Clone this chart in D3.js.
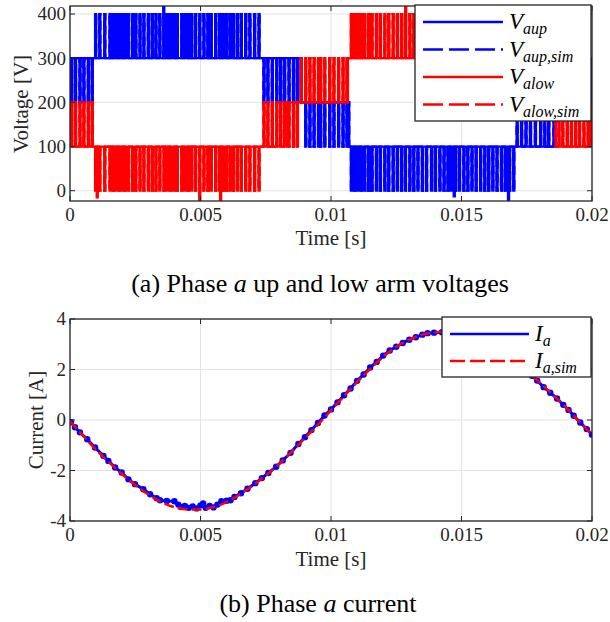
<!DOCTYPE html>
<html>
<head>
<meta charset="utf-8">
<script src="https://cdn.jsdelivr.net/npm/d3@7"></script>
<style>
  body { margin: 0; background: #fff; }
  svg { display: block; }
  text { font-family: 'Liberation Serif', 'Times New Roman', serif; }
</style>
</head>
<body>
<div id="chart"></div>
<script>
// ---- data (time in ms) ----
const timeTicks = [0, 5, 10, 15, 20];
const timeTickLabels = ['0', '0.005', '0.01', '0.015', '0.02'];
const voltageTicks = [0, 100, 200, 300, 400];
const voltageTickLabels = ['0', '100', '200', '300', '400'];
const currentTicks = [-4, -2, 0, 2, 4];
const currentTickLabels = ['-4', '-2', '0', '2', '4'];

// switching instants
const pulseTimes = [
  0.04, 0.19, 0.36, 0.51, 0.68, 0.83, 0.96, 1.12, 1.31, 1.51, 1.64, 1.76, 1.87, 1.97,
  2.08, 2.21, 2.37, 2.50, 2.66, 2.81, 2.98, 3.13, 3.27, 3.42, 3.58, 3.71, 3.83, 3.96,
  4.09, 4.26, 4.38, 4.51, 4.64, 4.79, 4.95, 5.11, 5.26, 5.39, 5.56, 5.71, 5.84, 5.97,
  6.11, 6.24, 6.39, 6.54, 6.71, 6.87, 7.05, 7.22, 7.41, 7.56, 7.73, 7.90, 8.05, 8.20,
  8.37, 8.54, 8.69, 8.84, 9.01, 9.17, 9.33, 9.50, 9.58, 9.74, 9.93, 10.09, 10.27, 10.44,
  10.59, 10.76, 10.89, 11.01, 11.14, 11.27, 11.42, 11.55, 11.72, 11.87, 12.04, 12.19,
  12.36, 12.52, 12.68, 12.83, 13.00, 13.15, 13.31, 13.48, 13.64, 13.83, 13.98, 14.15,
  14.31, 14.46, 14.59, 14.75, 14.90, 15.07, 15.22, 15.38, 15.54, 15.71, 15.87, 16.02,
  16.18, 16.34, 16.51, 16.66, 16.82, 16.98, 17.11, 17.28, 17.45, 17.62, 17.81, 18.01,
  18.17, 18.32, 18.52, 18.71, 18.86, 19.03, 19.19, 19.35, 19.50, 19.67, 19.83, 19.96
];
const pulseWidth = 0.045;

// [start, end, base level, pulse level]
const aupSegments = [
  [0, 0.9, 300, 200],
  [0.9, 7.3, 300, 400],
  [7.3, 8.85, 300, 200],
  [8.85, 10.7, 200, 100],
  [10.7, 17.05, 100, 0],
  [17.05, 18.6, 100, 200],
  [18.6, 20, 200, 300]
];
const alowSegments = [
  [0, 0.9, 100, 200],
  [0.9, 7.25, 100, 0],
  [7.25, 8.3, 100, 200],
  [8.3, 8.8, 200, 100],
  [8.8, 10.65, 200, 300],
  [10.65, 14.6, 300, 400],
  [14.6, 18.6, 200, 300],
  [18.6, 20, 100, 200]
];
// overshoots [time, voltage]
const aupSpikes = [[3.57, 418], [14.7, -13], [16.78, -25]];
const alowSpikes = [[1.02, -15], [4.95, -23], [5.75, -25], [12.84, 420]];

const iaTime = [
  0.04, 0.19, 0.38, 0.66, 0.96, 1.28, 1.47, 1.73, 1.98, 2.24, 2.49, 2.81, 3.07, 3.32,
  3.45, 3.71, 4.00, 4.15, 4.25, 4.40, 4.55, 4.70, 4.85, 5.00, 5.10, 5.20, 5.35, 5.50,
  5.65, 5.80, 6.00, 6.15, 6.30, 6.55, 6.80, 7.10, 7.35, 7.60, 7.90, 8.15, 8.45, 8.75,
  9.00, 9.25, 9.50, 9.75, 10.00, 10.25, 10.50, 10.75, 11.00, 11.25, 11.50, 11.75, 12.00,
  12.25, 12.50, 12.75, 13.00, 13.25, 13.50, 13.70, 13.95, 14.25, 14.60, 15.00, 15.50,
  16.00, 16.50, 17.00, 17.40, 17.70, 17.90, 18.15, 18.40, 18.66, 18.90, 19.10, 19.30,
  19.55, 19.80, 20.00
];
const iaMeas = [
  -0.09, -0.29, -0.49, -0.76, -1.09, -1.42, -1.62, -1.88, -2.08, -2.35, -2.54, -2.74, -2.94, -3.10,
  -3.18, -3.21, -3.22, -3.35, -3.45, -3.40, -3.48, -3.42, -3.50, -3.38, -3.30, -3.48, -3.40, -3.46,
  -3.35, -3.22, -3.20, -3.18, -3.05, -2.90, -2.72, -2.50, -2.30, -2.10, -1.85, -1.60, -1.30, -0.95,
  -0.68, -0.40, -0.12, 0.18, 0.42, 0.70, 0.98, 1.25, 1.55, 1.80, 2.08, 2.30, 2.55,
  2.75, 2.90, 3.05, 3.18, 3.28, 3.38, 3.44, 3.46, 3.48, 3.46, 3.42, 3.28,
  3.05, 2.72, 2.35, 2.02, 1.75, 1.56, 1.30, 1.08, 0.85, 0.60, 0.40, 0.17,
  -0.10, -0.36, -0.58
];
const iaSimTime = [
  0, 0.5, 1, 1.5, 2, 2.5, 3, 3.5, 4, 4.5, 5, 5.5, 6, 6.5, 7, 7.5, 8, 8.5, 9, 9.5, 10,
  10.5, 11, 11.5, 12, 12.5, 13, 13.5, 14, 14.5, 15, 15.5, 16, 16.5, 17, 17.5, 18, 18.5, 19, 19.5, 20
];
const iaSim = [
  -0.05, -0.62, -1.18, -1.68, -2.15, -2.58, -2.95, -3.25, -3.45, -3.54, -3.54, -3.45, -3.25, -2.95,
  -2.60, -2.20, -1.75, -1.25, -0.72, -0.18, 0.38, 0.95, 1.50, 2.02, 2.50, 2.90, 3.18, 3.38, 3.47,
  3.50, 3.45, 3.30, 3.05, 2.72, 2.38, 1.95, 1.48, 1.00, 0.50, -0.05, -0.58
];

// ---- layout ----
const W = 610, H = 622;
const left = 70, right = 592;
const AXIS = '#262626', GRID = '#e3e3e3';
const BLUE = '#0000ff', RED = '#ff0000';

const svg = d3.select('#chart').append('svg').attr('width', W).attr('height', H);

function drawFrame(x, y, xTicks, yTicks, clipId) {
  const [x0, x1] = x.range();
  const [y0, y1] = y.range(); // y0 bottom, y1 top
  const g = svg.append('g');

  // grid
  g.selectAll('.gx').data(xTicks).join('line')
    .attr('x1', d => x(d)).attr('x2', d => x(d)).attr('y1', y1).attr('y2', y0)
    .attr('stroke', GRID).attr('stroke-width', 1);
  g.selectAll('.gy').data(yTicks).join('line')
    .attr('x1', x0).attr('x2', x1).attr('y1', d => y(d)).attr('y2', d => y(d))
    .attr('stroke', GRID).attr('stroke-width', 1);

  svg.append('clipPath').attr('id', clipId)
    .append('rect').attr('x', x0).attr('y', y1).attr('width', x1 - x0).attr('height', y0 - y1);
  return svg.append('g').attr('clip-path', `url(#${clipId})`);
}

function drawAxes(x, y, xTicks, xLabels, yTicks, yLabels) {
  const [x0, x1] = x.range();
  const [y0, y1] = y.range();
  const g = svg.append('g');
  const tl = 5;
  xTicks.forEach(t => {
    g.append('line').attr('x1', x(t)).attr('x2', x(t)).attr('y1', y0).attr('y2', y0 - tl).attr('stroke', AXIS);
    g.append('line').attr('x1', x(t)).attr('x2', x(t)).attr('y1', y1).attr('y2', y1 + tl).attr('stroke', AXIS);
  });
  yTicks.forEach(t => {
    g.append('line').attr('x1', x0).attr('x2', x0 + tl).attr('y1', y(t)).attr('y2', y(t)).attr('stroke', AXIS);
    g.append('line').attr('x1', x1).attr('x2', x1 - tl).attr('y1', y(t)).attr('y2', y(t)).attr('stroke', AXIS);
  });
  g.append('rect').attr('x', x0).attr('y', y1).attr('width', x1 - x0).attr('height', y0 - y1)
    .attr('fill', 'none').attr('stroke', AXIS).attr('stroke-width', 1.3);

  g.selectAll('.xl').data(xTicks).join('text')
    .attr('x', d => x(d)).attr('y', y0 + 20)
    .attr('text-anchor', 'middle').attr('fill', AXIS).style('font-size', '19px')
    .text((d, i) => xLabels[i]);
  g.selectAll('.yl').data(yTicks).join('text')
    .attr('x', x0 - 4).attr('y', d => y(d)).attr('dy', '0.34em')
    .attr('text-anchor', 'end').attr('fill', AXIS).style('font-size', '19px')
    .text((d, i) => yLabels[i]);
}

function legend(x, y, w, items, rowH, lineLen, dash) {
  const g = svg.append('g').attr('transform', `translate(${x},${y})`);
  g.append('rect').attr('width', w).attr('height', items.length * rowH + 6)
    .attr('fill', '#fff').attr('stroke', AXIS).attr('stroke-width', 1.3);
  items.forEach((it, i) => {
    const cy = 17 + i * rowH;
    g.append('line').attr('x1', 8).attr('x2', 8 + lineLen).attr('y1', cy).attr('y2', cy)
      .attr('stroke', it.color).attr('stroke-width', 2.5)
      .attr('stroke-dasharray', it.dashed ? dash : null);
    const t = g.append('text').attr('x', 14 + lineLen).attr('y', cy + 7)
      .style('font-style', 'italic').style('font-size', '23px');
    t.append('tspan').text(it.main);
    t.append('tspan').attr('dy', 5).style('font-size', '16px').text(it.sub);
  });
}

// ---- (a) arm voltages ----
const xa = d3.scaleLinear().domain([0, 20]).range([left, right]);
const ya = d3.scaleLinear().domain([-23.3, 418.1]).range([201, 6]);
const plotA = drawFrame(xa, ya, timeTicks, voltageTicks, 'clipA');

function switchedWave(segments, spikes) {
  const pts = [];
  segments.forEach(([t0, t1, base, level]) => {
    const ev = pulseTimes.filter(t => t >= t0 && t < t1).map(t => [t, level])
      .concat(spikes.filter(s => s[0] >= t0 && s[0] < t1))
      .sort((a, b) => a[0] - b[0]);
    pts.push([t0, base]);
    ev.forEach(([t, v]) => {
      pts.push([t, base], [t, v], [t + pulseWidth, v], [t + pulseWidth, base]);
    });
    pts.push([t1, base]);
  });
  return pts;
}

const lineA = d3.line().x(d => xa(d[0])).y(d => ya(d[1]));

plotA.append('path').datum(switchedWave(aupSegments, aupSpikes)).attr('d', lineA)
  .attr('fill', 'none').attr('stroke', BLUE).attr('stroke-width', 2.2);
plotA.append('path').datum(switchedWave(aupSegments, [])).attr('d', lineA)
  .attr('fill', 'none').attr('stroke', BLUE).attr('stroke-width', 2.2).attr('stroke-dasharray', '9,5');
plotA.append('path').datum(switchedWave(alowSegments, alowSpikes)).attr('d', lineA)
  .attr('fill', 'none').attr('stroke', RED).attr('stroke-width', 2.2);
plotA.append('path').datum(switchedWave(alowSegments, [])).attr('d', lineA)
  .attr('fill', 'none').attr('stroke', RED).attr('stroke-width', 2.2).attr('stroke-dasharray', '9,5');

drawAxes(xa, ya, timeTicks, timeTickLabels, voltageTicks, voltageTickLabels);

svg.append('text').attr('transform', 'translate(21,104) rotate(-90)')
  .attr('text-anchor', 'middle').attr('dy', '0.32em').attr('fill', AXIS)
  .style('font-size', '21px').text('Voltage [V]');
svg.append('text').attr('x', (left + right) / 2).attr('y', 245)
  .attr('text-anchor', 'middle').attr('fill', AXIS)
  .style('font-size', '21px').text('Time [s]');

legend(415, 5, 176, [
  { main: 'V', sub: 'aup', color: BLUE, dashed: false },
  { main: 'V', sub: 'aup,sim', color: BLUE, dashed: true },
  { main: 'V', sub: 'alow', color: RED, dashed: false },
  { main: 'V', sub: 'alow,sim', color: RED, dashed: true }
], 27.5, 80, '20,6');

// ---- (b) phase current ----
const yb = d3.scaleLinear().domain([-4, 4]).range([521, 319]);
const plotB = drawFrame(xa, yb, timeTicks, currentTicks, 'clipB');

const meas = iaTime.map((t, i) => [t, iaMeas[i]]);
const sim = iaSimTime.map((t, i) => [t, iaSim[i]]);
const lineB = d3.line().x(d => xa(d[0])).y(d => yb(d[1]));

plotB.append('path').datum(meas).attr('d', lineB)
  .attr('fill', 'none').attr('stroke', BLUE).attr('stroke-width', 3);
plotB.selectAll('.dot').data(meas).join('circle')
  .attr('cx', d => xa(d[0])).attr('cy', d => yb(d[1])).attr('r', 3.2).attr('fill', BLUE);
plotB.append('path').datum(sim).attr('d', d3.line().curve(d3.curveMonotoneX).x(d => xa(d[0])).y(d => yb(d[1])))
  .attr('fill', 'none').attr('stroke', RED).attr('stroke-width', 2.5).attr('stroke-dasharray', '10,4');

drawAxes(xa, yb, timeTicks, timeTickLabels, currentTicks, currentTickLabels);

svg.append('text').attr('transform', 'translate(36,420) rotate(-90)')
  .attr('text-anchor', 'middle').attr('dy', '0.32em').attr('fill', AXIS)
  .style('font-size', '21px').text('Current [A]');
svg.append('text').attr('x', (left + right) / 2).attr('y', 566)
  .attr('text-anchor', 'middle').attr('fill', AXIS)
  .style('font-size', '21px').text('Time [s]');

legend(442, 317, 149, [
  { main: 'I', sub: 'a', color: BLUE, dashed: false },
  { main: 'I', sub: 'a,sim', color: RED, dashed: true }
], 27, 79, '15,5');

// ---- captions ----
function caption(cx, y, before, it, after) {
  const t = svg.append('text').attr('x', cx).attr('y', y).attr('text-anchor', 'middle')
    .attr('fill', '#000').style('font-size', '26px');
  t.append('tspan').text(before);
  t.append('tspan').style('font-style', 'italic').text(it);
  t.append('tspan').text(after);
}
caption(320, 292, '(a) Phase ', 'a', ' up and low arm voltages');
caption(318, 612, '(b) Phase ', 'a', ' current');
</script>
</body>
</html>
